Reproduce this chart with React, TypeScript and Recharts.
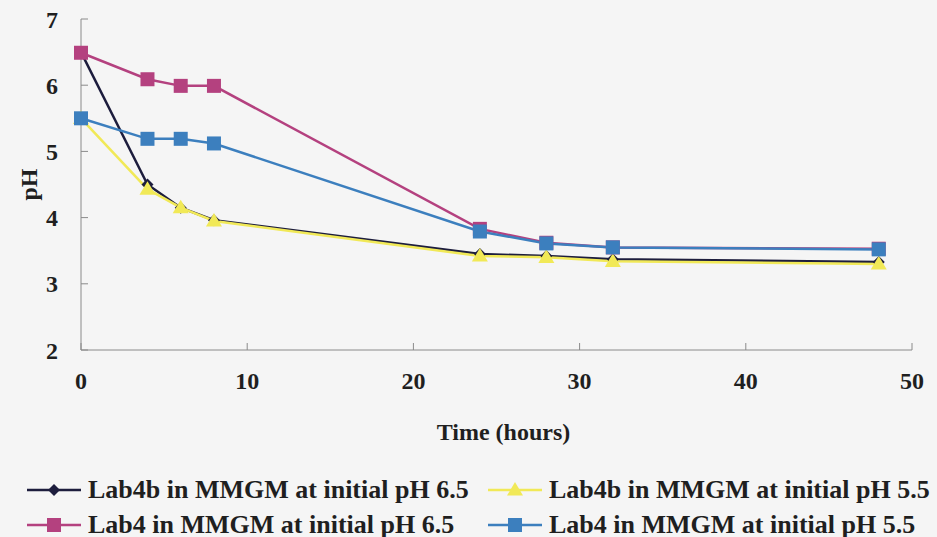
import { LineChart, Line, XAxis, YAxis, Label } from "recharts"

// time points (hours)
const hours = [0, 4, 6, 8, 24, 28, 32, 48]

// pH readings per series
const lab4bPh65 = [6.5, 4.5, 4.15, 3.96, 3.45, 3.42, 3.37, 3.33]
const lab4bPh55 = [5.5, 4.43, 4.15, 3.95, 3.42, 3.4, 3.34, 3.3]
const lab4Ph65 = [6.49, 6.09, 5.99, 5.99, 3.83, 3.62, 3.55, 3.53]
const lab4Ph55 = [5.5, 5.19, 5.19, 5.12, 3.79, 3.61, 3.55, 3.52]

const xTicks = [0, 10, 20, 30, 40, 50]
const yTicks = [2, 3, 4, 5, 6, 7]

const series = [
  { key: "a", name: "Lab4b in MMGM at initial pH 6.5", color: "#1d1d3d", shape: "diamond", values: lab4bPh65 },
  { key: "b", name: "Lab4b in MMGM at initial pH 5.5", color: "#f1e957", shape: "triangle", values: lab4bPh55 },
  { key: "c", name: "Lab4 in MMGM at initial pH 6.5", color: "#b4417f", shape: "square", values: lab4Ph65 },
  { key: "d", name: "Lab4 in MMGM at initial pH 5.5", color: "#3c7fbe", shape: "square", values: lab4Ph55 },
]

const data = hours.map((h, i) => {
  const row: Record<string, number> = { t: h }
  series.forEach(s => { row[s.key] = s.values[i] })
  return row
})

const font = "'Times New Roman', 'Liberation Serif', 'DejaVu Serif', serif"
const axisColor = "#8a8a8a"
const textColor = "#1f1f1f"

function Marker({ cx, cy, shape, color }: { cx: number; cy: number; shape: string; color: string }) {
  if (cx == null || cy == null) return null
  if (shape === "diamond") {
    const r = 6
    return <polygon points={`${cx},${cy - r} ${cx + r},${cy} ${cx},${cy + r} ${cx - r},${cy}`} fill={color} />
  }
  if (shape === "triangle") {
    const r = 8
    return <polygon points={`${cx},${cy - r} ${cx + r},${cy + r * 0.7} ${cx - r},${cy + r * 0.7}`} fill={color} />
  }
  const r = 7
  return <rect x={cx - r} y={cy - r} width={r * 2} height={r * 2} fill={color} />
}

export default function App() {
  return (
    <div style={{ position: "absolute", left: 0, top: 0, width: 937, height: 537, background: "#f5f5f5", fontFamily: font, overflow: "hidden" }}>
      <LineChart width={937} height={537} data={data} margin={{ top: 19, right: 25, bottom: 147, left: 21 }}>
        <XAxis
          dataKey="t"
          type="number"
          domain={[0, 50]}
          ticks={xTicks}
          stroke={axisColor}
          tickSize={-7}
          tickMargin={29}
          height={40}
          tick={{ fill: textColor, fontSize: 24, fontWeight: "bold", fontFamily: font }}
        >
          <Label
            content={({ viewBox }: any) => (
              <text x={viewBox.x + viewBox.width / 2 + 7} y={viewBox.y + 90} textAnchor="middle"
                fontSize={24} fontWeight="bold" fontFamily={font} fill={textColor}>Time (hours)</text>
            )}
          />
        </XAxis>
        <YAxis
          type="number"
          domain={[2, 7]}
          ticks={yTicks}
          stroke={axisColor}
          tickSize={-7}
          tickMargin={30}
          width={60}
          tick={{ fill: textColor, fontSize: 24, fontWeight: "bold", fontFamily: font }}
        >
          <Label
            content={({ viewBox }: any) => {
              const x = viewBox.x + 16
              const y = viewBox.y + viewBox.height / 2
              return (
                <text x={x} y={y} transform={`rotate(-90 ${x} ${y})`} textAnchor="middle"
                  fontSize={24} fontWeight="bold" fontFamily={font} fill={textColor}>pH</text>
              )
            }}
          />
        </YAxis>
        {series.map(s => (
          <Line
            key={s.key}
            dataKey={s.key}
            name={s.name}
            stroke={s.color}
            strokeWidth={2.5}
            isAnimationActive={false}
            dot={(p: any) => <Marker key={`${s.key}-${p.index}`} cx={p.cx} cy={p.cy} shape={s.shape} color={s.color} />}
            activeDot={false}
          />
        ))}
      </LineChart>
      <div style={{ position: "absolute", left: 27, top: 472, display: "grid", gridTemplateColumns: "461px 449px" }}>
        {series.map(s => (
          <div key={s.key} style={{ height: 35, display: "flex", alignItems: "center", fontSize: 26, fontWeight: "bold", color: textColor, whiteSpace: "nowrap" }}>
            <svg width={56} height={20} style={{ marginRight: 5, flexShrink: 0 }}>
              <line x1={0} y1={10} x2={54} y2={10} stroke={s.color} strokeWidth={2.5} />
              <Marker cx={27} cy={10} shape={s.shape} color={s.color} />
            </svg>
            {s.name}
          </div>
        ))}
      </div>
    </div>
  )
}
